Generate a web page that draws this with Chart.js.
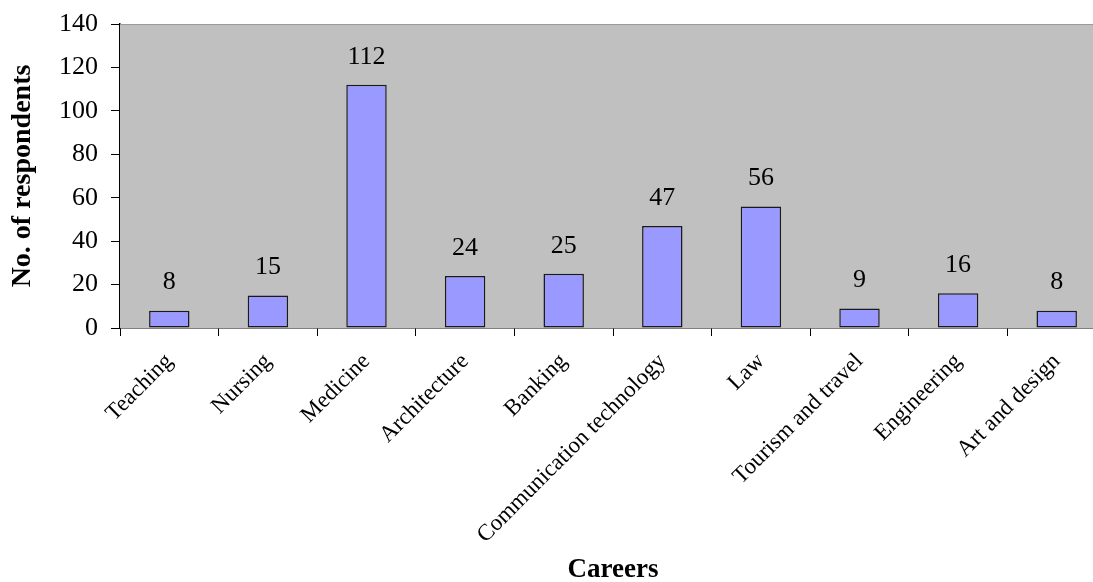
<!DOCTYPE html>
<html>
<head>
<meta charset="utf-8">
<script src="https://cdn.jsdelivr.net/npm/chart.js@4/dist/chart.umd.min.js"></script>
<style>
  html, body { margin: 0; padding: 0; background: #fff; overflow: hidden; }
  #wrap { width: 1106px; height: 582px; position: relative; }
</style>
</head>
<body>
<div id="wrap"><canvas id="c"></canvas></div>
<script>
const careers = ['Teaching', 'Nursing', 'Medicine', 'Architecture', 'Banking',
  'Communication technology', 'Law', 'Tourism and travel', 'Engineering', 'Art and design'];
const respondents = [8, 15, 112, 24, 25, 47, 56, 9, 16, 8];
const yTicks = [0, 20, 40, 60, 80, 100, 120, 140];

const SERIF = '"Liberation Serif", "Times New Roman", serif';

// Gray plot background with a faint top edge
const plotBackground = {
  id: 'plotBackground',
  beforeDatasetsDraw(chart) {
    const { ctx, chartArea: a } = chart;
    ctx.save();
    ctx.fillStyle = '#C0C0C0';
    ctx.fillRect(a.left, a.top, a.right - a.left, a.bottom - a.top);
    ctx.strokeStyle = '#9a9a9a';
    ctx.lineWidth = 1;
    ctx.beginPath();
    ctx.moveTo(a.left, a.top + 0.5);
    ctx.lineTo(a.right, a.top + 0.5);
    ctx.stroke();
    ctx.restore();
  }
};

// Value written above each bar
const valueLabels = {
  id: 'valueLabels',
  afterDatasetsDraw(chart) {
    const { ctx } = chart;
    const meta = chart.getDatasetMeta(0);
    ctx.save();
    ctx.font = '26px ' + SERIF;
    ctx.fillStyle = '#000';
    ctx.textAlign = 'center';
    ctx.textBaseline = 'middle';
    meta.data.forEach((bar, i) => {
      ctx.fillText(String(respondents[i]), bar.x, bar.y - 28);
    });
    ctx.restore();
  }
};

new Chart(document.getElementById('c'), {
  type: 'bar',
  data: {
    labels: careers,
    datasets: [{
      data: respondents,
      backgroundColor: '#9999FF',
      borderColor: '#1a1a1a',
      borderWidth: 1.5,
      borderSkipped: false,
      categoryPercentage: 1,
      barPercentage: 0.41
    }]
  },
  options: {
    responsive: true,
    maintainAspectRatio: false,
    animation: false,
    events: [],
    layout: { padding: { top: 24, left: 0, right: 0, bottom: 0 } },
    plugins: { legend: { display: false }, tooltip: { enabled: false } },
    scales: {
      x: {
        offset: true,
        grid: { offset: true, drawOnChartArea: false, drawTicks: true, tickLength: 8, color: '#000', lineWidth: 1 },
        border: { display: true, color: '#000', width: 1.5 },
        ticks: {
          autoSkip: false, maxRotation: 45, minRotation: 45, padding: 12,
          color: '#000', font: { family: SERIF, size: 23 }
        },
        title: {
          display: true, text: 'Careers', color: '#000',
          font: { family: SERIF, size: 27, weight: 'bold' },
          padding: { top: 0, bottom: -4 }
        },
        afterFit(scale) {
          scale.height = 254;
          scale.paddingLeft = 0;
          scale.paddingRight = 0;
        }
      },
      y: {
        min: 0, max: 140,
        afterBuildTicks(scale) { scale.ticks = yTicks.map(v => ({ value: v })); },
        grid: { drawOnChartArea: false, drawTicks: true, tickLength: 9, color: '#000', lineWidth: 1 },
        border: { display: true, color: '#000', width: 1.5 },
        ticks: { padding: 13, color: '#000', font: { family: SERIF, size: 26 } },
        title: {
          display: true, text: 'No. of respondents', color: '#000',
          font: { family: SERIF, size: 28, weight: 'bold' },
          padding: { top: 6, bottom: 0 }
        },
        afterFit(scale) {
          scale.width = 120;
          scale.paddingTop = 0;
          scale.paddingBottom = 0;
        }
      }
    }
  },
  plugins: [plotBackground, valueLabels]
});
</script>
</body>
</html>
